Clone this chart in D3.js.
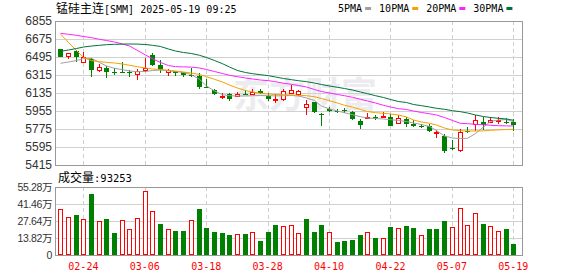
<!DOCTYPE html>
<html lang="zh">
<head>
<meta charset="utf-8">
<title>锰硅主连</title>
<script src="https://cdn.jsdelivr.net/npm/d3@7"></script>
<style>
  body { margin: 0; background: #fff; }
  svg { display: block; }
</style>
</head>
<body>
<div class="chart"></div>
<script>
// trading days shown (02-19 .. 05-19)
var dates = ["02-19","02-20","02-21","02-24","02-25","02-26","02-27","02-28","03-03","03-04",
  "03-05","03-06","03-07","03-10","03-11","03-12","03-13","03-14","03-17","03-18",
  "03-19","03-20","03-21","03-24","03-25","03-26","03-27","03-28","03-31","04-01",
  "04-02","04-03","04-07","04-08","04-09","04-10","04-11","04-14","04-15","04-16",
  "04-17","04-18","04-21","04-22","04-23","04-24","04-25","04-28","04-29","04-30",
  "05-06","05-07","05-08","05-09","05-12","05-13","05-14","05-15","05-16","05-19"];

var open  = [6575,6502,6558,6448,6472,6368,6385,6342,6345,6348,6328,6362,6515,6412,6342,6358,6345,6318,6305,6192,
             6162,6100,6128,6105,6130,6125,6155,6108,6072,6075,6140,6125,6000,6045,5928,5978,5957,5962,5948,5858,
             5890,5892,5900,5898,5832,5872,5825,5805,5805,5740,5705,5590,5570,5755,5830,5845,5845,5852,5848,5842];
var high  = [6578,6540,6565,6542,6482,6428,6405,6385,6445,6362,6378,6490,6532,6462,6372,6358,6345,6388,6332,6272,
             6172,6132,6138,6145,6165,6178,6172,6138,6122,6172,6218,6165,6065,6045,5935,5998,5978,5985,5955,5872,
             5938,5918,5942,5922,5915,5898,5865,5828,5822,5762,5722,5665,5780,5798,5918,5898,5898,5892,5885,5872];
var low   = [6497,6472,6448,6432,6298,6345,6288,6318,6332,6298,6265,6348,6405,6332,6308,6308,6292,6292,6172,6182,
             6112,6072,6058,6098,6112,6112,6125,6058,6032,6052,6132,6108,5912,5938,5805,5942,5932,5938,5865,5778,
             5878,5865,5888,5805,5825,5792,5792,5782,5748,5688,5538,5565,5550,5738,5758,5762,5832,5822,5825,5752];
var close = [6500,6538,6492,6492,6368,6395,6345,6335,6338,6342,6355,6382,6418,6362,6365,6335,6312,6312,6198,6185,
             6125,6105,6075,6125,6120,6150,6135,6075,6078,6152,6165,6155,6028,5948,5920,5960,5952,5958,5872,5812,
             5898,5885,5908,5808,5888,5822,5800,5800,5758,5745,5555,5585,5750,5748,5862,5818,5862,5870,5843,5820];

var ma5  = [6432,6445,6460,6478,6482,6440,6405,6382,6368,6355,6348,6350,6360,6365,6358,6350,6340,6318,6272,6205,
            6155,6118,6108,6105,6105,6108,6110,6108,6106,6108,6110,6105,6085,6060,6005,5975,5955,5938,5918,5898,
            5885,5880,5875,5868,5860,5850,5835,5820,5800,5760,5705,5685,5680,5682,5730,5795,5850,5865,5870,5848];
var ma10 = [6725,6640,6560,6490,6458,6448,6442,6435,6425,6412,6398,6385,6375,6370,6362,6355,6345,6335,6320,6298,
            6272,6245,6215,6185,6160,6145,6132,6125,6120,6118,6115,6112,6108,6098,6080,6058,6035,6012,5995,5970,
            5950,5938,5932,5925,5915,5895,5865,5845,5832,5815,5785,5765,5758,5755,5755,5756,5762,5766,5770,5772];
var ma20 = [6732,6722,6712,6700,6688,6672,6660,6645,6625,6605,6560,6515,6478,6440,6410,6398,6396,6394,6385,6370,
            6350,6330,6312,6298,6285,6275,6265,6258,6248,6232,6222,6210,6195,6170,6150,6135,6120,6108,6092,6072,
            6055,6035,6012,5995,5978,5970,5955,5940,5928,5915,5890,5860,5832,5828,5822,5818,5812,5808,5806,5805];
var ma30 = [6552,6565,6580,6595,6605,6612,6618,6622,6624,6625,6624,6620,6612,6600,6575,6555,6540,6530,6512,6490,
            6460,6428,6395,6360,6340,6328,6318,6308,6295,6280,6268,6258,6248,6235,6220,6205,6192,6180,6165,6145,
            6128,6108,6090,6070,6050,6040,6020,6008,5995,5982,5972,5958,5948,5935,5915,5900,5890,5882,5875,5862];

var volume = [371000,306000,325000,290000,499000,274000,293000,182000,282000,209000,
              298000,520000,358000,252000,209000,195000,195000,282000,374000,219000,
              187000,179000,163000,168000,171000,187000,114000,187000,244000,233000,
              241000,176000,293000,187000,244000,187000,106000,114000,122000,163000,
              187000,138000,136000,228000,217000,236000,219000,160000,211000,211000,
              276000,225000,379000,241000,341000,252000,233000,193000,211000,93253];
// 1 = red (up) volume bar, 0 = green
var volUp = [1,1,0,1,0,1,0,0,1,1, 1,1,1,0,1,0,0,1,0,0,
             0,0,0,1,0,1,0,0,0,1, 1,1,0,0,0,1,0,0,0,0,
             1,0,1,0,1,0,0,1,0,0, 0,1,1,1,1,0,1,1,0,0];

var priceTicks = [5415,5595,5775,5955,6135,6315,6495,6675,6855];
var volTicks = [0,138200,276400,414600,552800];
var volTickLabels = ["0","13.82万","27.64万","41.46万","55.28万"];
var dateTicks = ["02-24","03-06","03-18","03-28","04-10","04-22","05-07","05-19"];
var maNames = ["5PMA","10PMA","20PMA","30PMA"];
var maSeries = [ma5, ma10, ma20, ma30];
var maColors = ["#a0a0a0","#f5a300","#ff22ff","#00733a"];

var W = 578, H = 276;
var pl = 55, pr = 522, kTop = 21, kBot = 165, vTop = 187, vBot = 255;
var RED = "#ff0000", GREEN = "#008000";
var mono = "'DejaVu Sans Mono', monospace";
var cjk = "'Noto Sans CJK SC', sans-serif";

var svg = d3.select(".chart").append("svg")
  .attr("width", W).attr("height", H)
  .style("font-family", "'Liberation Sans', Arial, sans-serif");

var x = d3.scaleBand().domain(dates).range([56.5, 517.1]);
function cx(d) { return Math.round(x(d) + x.bandwidth() / 2); }
var y = d3.scaleLinear().domain([5415, 6855]).range([kBot, kTop]);
var yv = d3.scaleLinear().domain([0, 552800]).range([vBot, vTop]);

// watermark
svg.append("text")
  .attr("x", 233).attr("y", 108)
  .style("font-family", cjk).style("font-weight", "bold").style("font-size", "36px")
  .style("fill", "#ececf0")
  .text("东方财富");

// horizontal grid
svg.selectAll(".hgrid").data(priceTicks).enter().append("line")
  .attr("x1", pl).attr("x2", pr)
  .attr("y1", function(d){ return Math.round(y(d)) + 0.5; })
  .attr("y2", function(d){ return Math.round(y(d)) + 0.5; })
  .style("stroke", function(d, i){ return (i == 0 || i == priceTicks.length - 1) ? "#999" : "#d0d0d0"; });
svg.selectAll(".vhgrid").data(volTicks).enter().append("line")
  .attr("x1", pl).attr("x2", pr)
  .attr("y1", function(d){ return Math.round(yv(d)) + 0.5; })
  .attr("y2", function(d){ return Math.round(yv(d)) + 0.5; })
  .style("stroke", function(d, i){ return (i == 0 || i == volTicks.length - 1) ? "#999" : "#d0d0d0"; });

// vertical dashed grid
[[kTop, kBot], [vTop, vBot]].forEach(function(r){
  svg.selectAll(null).data(dateTicks).enter().append("line")
    .attr("x1", function(d){ return cx(d) + 0.5; })
    .attr("x2", function(d){ return cx(d) + 0.5; })
    .attr("y1", r[0]).attr("y2", r[1])
    .style("stroke", "#cfcfcf").style("stroke-dasharray", "4,3");
});

// frames
[[kTop, kBot], [vTop, vBot]].forEach(function(r){
  svg.append("rect")
    .attr("x", pl + 0.5).attr("y", r[0] + 0.5)
    .attr("width", pr - pl).attr("height", r[1] - r[0])
    .style("fill", "none").style("stroke", "#999");
});

// y axes
var ya = svg.append("g").attr("transform", "translate(" + (pl - 2) + ",0)")
  .call(d3.axisLeft(y).tickValues(priceTicks).tickSize(0).tickPadding(1).tickFormat(d3.format("d")));
ya.select(".domain").remove();
ya.selectAll("text").style("font-size", "12px").style("fill", "#333").style("font-family", "'Liberation Sans', Arial, sans-serif");

var yva = svg.append("g").attr("transform", "translate(" + (pl - 2) + ",0)")
  .call(d3.axisLeft(yv).tickValues(volTicks).tickSize(0).tickPadding(1)
    .tickFormat(function(d, i){ return volTickLabels[i]; }));
yva.select(".domain").remove();
yva.selectAll("text").style("font-size", "10.5px").style("fill", "#333")
  .style("letter-spacing", "-0.4px")
  .style("font-family", "'Liberation Sans', 'Noto Sans CJK SC', sans-serif");

// x axis
var xa = svg.append("g").attr("transform", "translate(0," + vBot + ")")
  .attr("color", RED)
  .call(d3.axisBottom(x).tickValues(dateTicks).tickSize(0).tickPadding(8));
xa.select(".domain").remove();
xa.selectAll("text").attr("fill", RED).style("font-size", "10px").style("fill", RED).style("font-family", mono);

// candles
var idx = d3.range(dates.length);
var k = svg.append("g");
k.selectAll(".wick").data(idx).enter().append("line")
  .attr("x1", function(i){ return cx(dates[i]) + 0.5; })
  .attr("x2", function(i){ return cx(dates[i]) + 0.5; })
  .attr("y1", function(i){ return Math.round(y(high[i])); })
  .attr("y2", function(i){ return Math.round(y(low[i])); })
  .style("stroke", function(i){ return close[i] > open[i] ? RED : GREEN; });

k.selectAll(".body").data(idx).enter().append("rect")
  .each(function(i){
    var up = close[i] > open[i];
    var t = Math.round(y(Math.max(open[i], close[i])));
    var b = Math.round(y(Math.min(open[i], close[i])));
    var c = cx(dates[i]);
    if (up) {
      d3.select(this).attr("x", c - 1.5).attr("y", t + 0.5)
        .attr("width", 4).attr("height", Math.max(b - t, 1))
        .style("fill", "#fff").style("stroke", RED);
    } else {
      d3.select(this).attr("x", c - 2).attr("y", t)
        .attr("width", 5).attr("height", Math.max(b - t, 1))
        .style("fill", GREEN);
    }
  });

// moving averages
maSeries.forEach(function(s, j){
  var line = d3.line()
    .x(function(v, i){ return cx(dates[i]) + 0.5; })
    .y(function(v){ return y(v); });
  svg.append("path").datum(s)
    .attr("d", line)
    .style("fill", "none").style("stroke", maColors[j]).style("stroke-width", 1);
});

// volume bars
svg.selectAll(".vol").data(idx).enter().append("rect")
  .each(function(i){
    var c = cx(dates[i]);
    var t = Math.round(yv(volume[i]));
    if (volUp[i]) {
      d3.select(this).attr("x", c - 1.5).attr("y", t + 0.5)
        .attr("width", 4).attr("height", vBot - t - 1)
        .style("fill", "#fff").style("stroke", RED);
    } else {
      d3.select(this).attr("x", c - 2).attr("y", t)
        .attr("width", 5).attr("height", vBot - t)
        .style("fill", GREEN);
    }
  });

// title
var title = svg.append("text").attr("x", 56).attr("y", 13).style("fill", "#000");
title.append("tspan").style("font-family", cjk).style("font-size", "12px").text("锰硅主连");
title.append("tspan").style("font-family", mono).style("font-size", "10px").text("[SMM] 2025-05-19 09:25");

// legend
var lx = 338;
maNames.forEach(function(n, j){
  var t = svg.append("text").attr("x", lx).attr("y", 12)
    .style("font-family", mono).style("font-size", "10px").style("fill", "#000").text(n);
  var w = t.node().getComputedTextLength();
  svg.append("rect").attr("x", lx + w + 3).attr("y", 7).attr("width", 6).attr("height", 3)
    .style("fill", maColors[j]);
  lx += w + 3 + 6 + 8;
});

// volume label
var vl = svg.append("text").attr("x", 58).attr("y", 182).style("fill", "#000");
vl.append("tspan").style("font-family", cjk).style("font-size", "12px").text("成交量");
vl.append("tspan").style("font-family", mono).style("font-size", "10.5px").text(":" + volume[volume.length - 1]);
</script>
</body>
</html>
